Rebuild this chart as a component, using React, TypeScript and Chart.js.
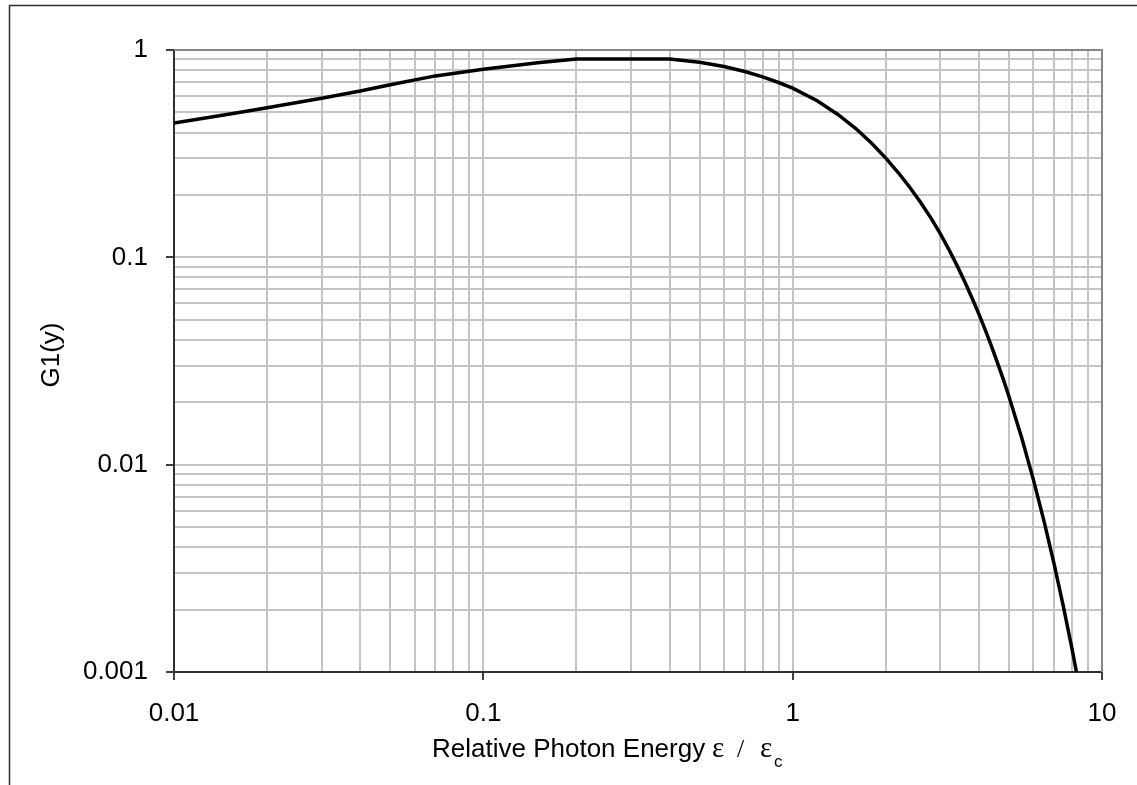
import React, { useEffect, useRef } from "react";
import { Chart, registerables } from "chart.js";

Chart.register(...registerables);

// Relative photon energy (epsilon / epsilon_c)
const energyRatio = [
  0.01, 0.015, 0.02, 0.03, 0.04, 0.05, 0.07, 0.1, 0.15, 0.2, 0.4, 0.5, 0.6, 0.7,
  0.8, 0.9, 1.0, 1.2, 1.4, 1.6, 1.8, 2.0, 2.2, 2.4, 2.6, 2.8, 3.0, 3.2, 3.4, 3.6,
  3.8, 4.0, 4.2, 4.4, 4.6, 4.8, 5.0, 5.5, 6.0, 6.5, 7.0, 7.5, 8.0, 8.5, 9.0,
];
// G1(y) values
const g1Values = [
  0.445, 0.49, 0.527, 0.585, 0.634, 0.68, 0.75, 0.807, 0.868, 0.905, 0.905, 0.872,
  0.832, 0.788, 0.742, 0.697, 0.655, 0.569, 0.489, 0.418, 0.355, 0.301, 0.255,
  0.216, 0.183, 0.1545, 0.13, 0.109, 0.0912, 0.0762, 0.0637, 0.0532, 0.0444,
  0.037, 0.0308, 0.0257, 0.0214, 0.01349, 0.00847, 0.00531, 0.00332, 0.002075,
  0.001293, 0.000805, 0.0005,
];

const xTickValues = [0.01, 0.1, 1, 10];
const xTickLabels = ["0.01", "0.1", "1", "10"];
const yTickValues = [0.001, 0.01, 0.1, 1];
const yTickLabels = ["0.001", "0.01", "0.1", "1"];

const xTitle = "Relative Photon Energy";
const xTitleSymbol = "\u03b5";
const xTitleSub = "c";
const yTitle = "G1(y)";

const SANS = "'Liberation Sans', Arial, sans-serif";
const SERIF = "'Liberation Serif', 'Times New Roman', serif";

function logGridValues(min: number, max: number): number[] {
  const out: number[] = [];
  const e0 = Math.round(Math.log10(min));
  const e1 = Math.round(Math.log10(max));
  for (let e = e0; e < e1; e++) {
    for (let m = 1; m <= 9; m++) out.push(parseFloat((m * Math.pow(10, e)).toPrecision(6)));
  }
  out.push(max);
  return out;
}

function isDecade(v: number): boolean {
  const l = Math.log10(v);
  return Math.abs(l - Math.round(l)) < 1e-6;
}

function labelFor(v: number, values: number[], labels: string[]): string {
  for (let i = 0; i < values.length; i++) {
    if (Math.abs(Math.log10(v) - Math.log10(values[i])) < 1e-6) return labels[i];
  }
  return "";
}

const framePlugin = {
  id: "frame",
  beforeDraw(chart: any) {
    const { ctx, width, height } = chart;
    ctx.save();
    ctx.fillStyle = "#ffffff";
    ctx.fillRect(0, 0, width, height);
    ctx.strokeStyle = "#303030";
    ctx.lineWidth = 1.5;
    ctx.beginPath();
    ctx.moveTo(9.5, height);
    ctx.lineTo(9.5, 5.5);
    ctx.lineTo(width, 5.5);
    ctx.stroke();
    ctx.restore();
  },
  afterDraw(chart: any) {
    const { ctx, chartArea } = chart;
    const { left, right, top, bottom } = chartArea;
    ctx.save();
    // top / right plot border
    ctx.strokeStyle = "#868686";
    ctx.lineWidth = 2;
    ctx.beginPath();
    ctx.moveTo(left, top);
    ctx.lineTo(right, top);
    ctx.lineTo(right, bottom);
    ctx.stroke();

    // x title
    ctx.fillStyle = "#000";
    ctx.textBaseline = "alphabetic";
    ctx.textAlign = "left";
    ctx.font = `26px ${SANS}`;
    ctx.fillText(xTitle, 432, 757);
    ctx.font = `29px ${SERIF}`;
    ctx.fillText(xTitleSymbol, 712, 757);
    ctx.font = `26px ${SERIF}`;
    ctx.fillText("/", 737, 757);
    ctx.font = `29px ${SERIF}`;
    ctx.fillText(xTitleSymbol, 760, 757);
    ctx.font = `17px ${SANS}`;
    ctx.fillText(xTitleSub, 774, 767);

    // y title
    ctx.translate(52, 355);
    ctx.rotate(-Math.PI / 2);
    ctx.textAlign = "center";
    ctx.textBaseline = "middle";
    ctx.font = `26px ${SANS}`;
    ctx.fillText(yTitle, 0, 0);
    ctx.restore();
  },
};

export default function App() {
  const canvasRef = useRef<HTMLCanvasElement | null>(null);

  useEffect(() => {
    if (!canvasRef.current) return;
    const xGrid = logGridValues(0.01, 10);
    const yGrid = logGridValues(0.001, 1);
    const points = energyRatio.map((x, i) => ({ x, y: g1Values[i] }));

    const gridColor = (ctx: any) => "#c4c4c4";
    const tickColor = (ctx: any) =>
      ctx.tick && isDecade(ctx.tick.value) ? "#000000" : "rgba(0,0,0,0)";

    const chart = new Chart(canvasRef.current, {
      type: "line",
      data: {
        datasets: [
          {
            data: points,
            borderColor: "#000000",
            borderWidth: 3.5,
            pointRadius: 0,
            tension: 0,
            fill: false,
          },
        ],
      },
      plugins: [framePlugin],
      options: {
        responsive: false,
        animation: false,
        events: [],
        layout: { padding: { left: 0, top: 50, right: 35, bottom: 0 } },
        plugins: {
          legend: { display: false },
          tooltip: { enabled: false },
          title: { display: false },
        },
        scales: {
          x: {
            type: "logarithmic",
            min: 0.01,
            max: 10,
            afterBuildTicks: (scale: any) => {
              scale.ticks = xGrid.map((v) => ({ value: v }));
            },
            afterFit: (scale: any) => {
              scale.height = 113;
            },
            grid: {
              color: gridColor,
              lineWidth: 2,
              drawTicks: true,
              tickLength: 8,
              tickColor: tickColor,
              tickWidth: 1.5,
            },
            border: { display: true, color: "#303030", width: 2 },
            ticks: {
              autoSkip: false,
              maxRotation: 0,
              minRotation: 0,
              padding: 18,
              color: "#000",
              font: { family: SANS, size: 26 },
              callback: (v: any) => labelFor(Number(v), xTickValues, xTickLabels),
            },
          },
          y: {
            type: "logarithmic",
            min: 0.001,
            max: 1,
            afterBuildTicks: (scale: any) => {
              scale.ticks = yGrid.map((v) => ({ value: v }));
            },
            afterFit: (scale: any) => {
              scale.width = 174;
            },
            grid: {
              color: gridColor,
              lineWidth: 2,
              drawTicks: true,
              tickLength: 8,
              tickColor: tickColor,
              tickWidth: 1.5,
            },
            border: { display: true, color: "#303030", width: 2 },
            ticks: {
              autoSkip: false,
              padding: 18,
              color: "#000",
              font: { family: SANS, size: 26 },
              callback: (v: any) => labelFor(Number(v), yTickValues, yTickLabels),
            },
          },
        },
      },
    } as any);

    return () => chart.destroy();
  }, []);

  return (
    <div style={{ position: "absolute", left: 0, top: 0, width: 1137, height: 785 }}>
      <canvas ref={canvasRef} width={1137} height={785} style={{ display: "block" }} />
    </div>
  );
}
